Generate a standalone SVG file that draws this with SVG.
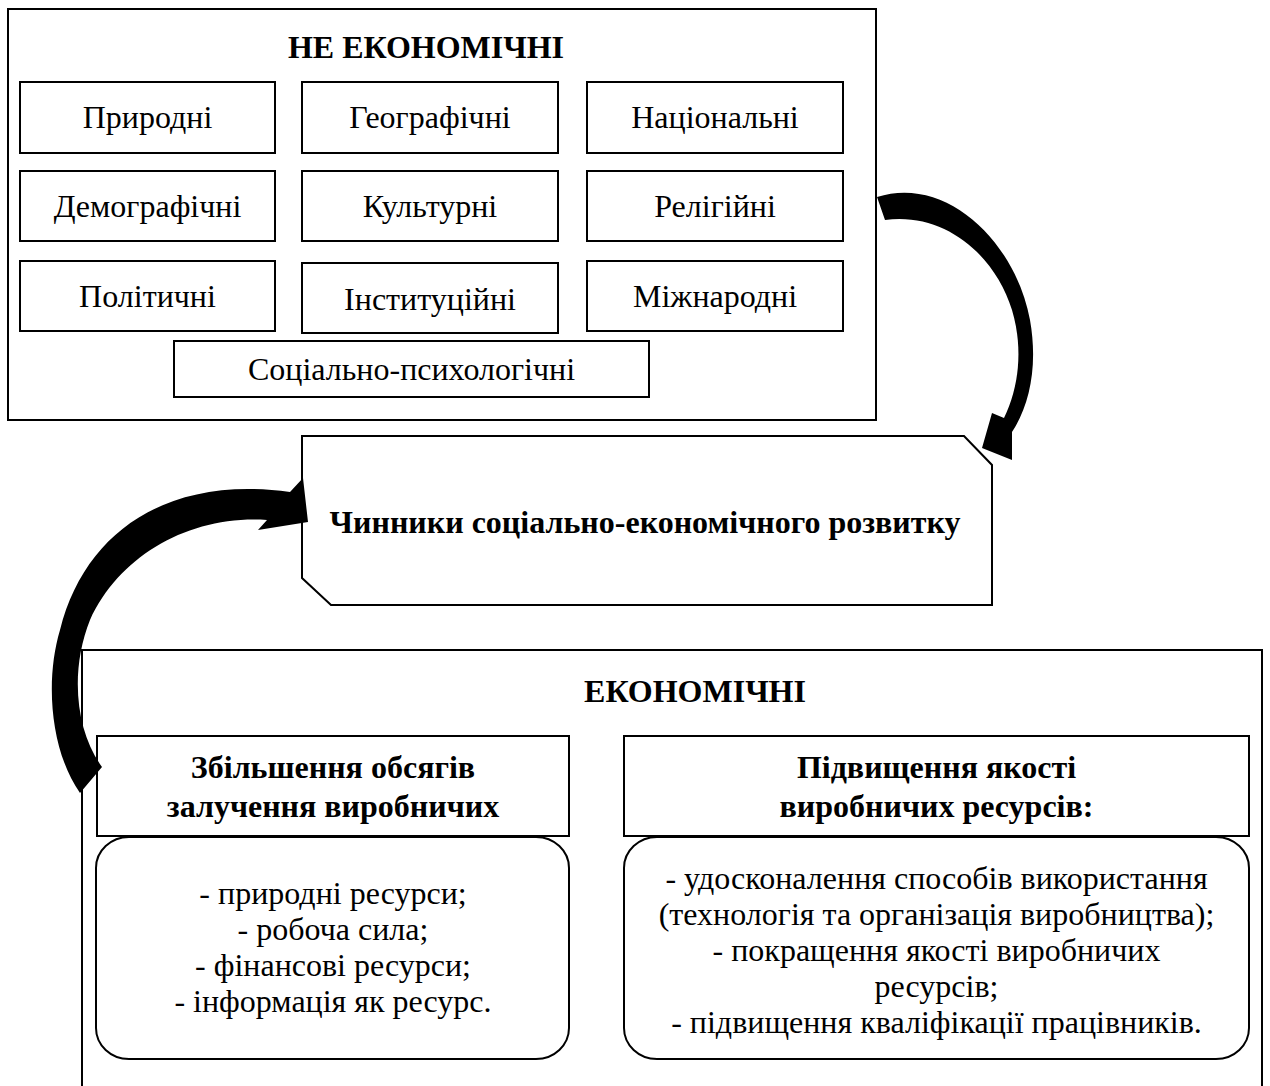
<svg xmlns="http://www.w3.org/2000/svg" width="1270" height="1086" viewBox="0 0 1270 1086">
<style>
.box{fill:#fff;stroke:#000;stroke-width:2}
.t{font-family:"Liberation Serif","Times New Roman",serif;font-size:32px;fill:#000;text-anchor:middle}
.b{font-weight:bold}
.arrow{fill:#000;stroke:none}
</style>
<rect width="1270" height="1086" fill="#fff"/>
<g id="non-economic">
<rect class="box" x="8" y="9" width="868" height="411"/>
<text class="t b" x="426" y="58">НЕ ЕКОНОМІЧНІ</text>
</g>
<g id="n-pryrodni"><rect class="box" x="20" y="82" width="255" height="71"/><text class="t" x="147.5" y="128">Природні</text></g>
<g id="n-geografichni"><rect class="box" x="302" y="82" width="256" height="71"/><text class="t" x="430" y="128">Географічні</text></g>
<g id="n-natsionalni"><rect class="box" x="587" y="82" width="256" height="71"/><text class="t" x="715" y="128">Національні</text></g>
<g id="n-demografichni"><rect class="box" x="20" y="171" width="255" height="70"/><text class="t" x="147.5" y="217">Демографічні</text></g>
<g id="n-kulturni"><rect class="box" x="302" y="171" width="256" height="70"/><text class="t" x="430" y="217">Культурні</text></g>
<g id="n-religiini"><rect class="box" x="587" y="171" width="256" height="70"/><text class="t" x="715" y="217">Релігійні</text></g>
<g id="n-politychni"><rect class="box" x="20" y="261" width="255" height="70"/><text class="t" x="147.5" y="307">Політичні</text></g>
<g id="n-instytutsiini"><rect class="box" x="302" y="263" width="256" height="70"/><text class="t" x="430" y="310">Інституційні</text></g>
<g id="n-mizhnarodni"><rect class="box" x="587" y="261" width="256" height="70"/><text class="t" x="715" y="307">Міжнародні</text></g>
<g id="n-sotsialno"><rect class="box" x="174" y="341" width="475" height="56"/><text class="t" x="411.5" y="380">Соціально-психологічні</text></g>

<g id="center">
<polygon class="box" points="302,436 964,436 992,465 992,605 331,605 302,578"/>
<text class="t b" x="645" y="533">Чинники соціально-економічного розвитку</text>
</g>

<g id="economic">
<rect class="box" x="82" y="650" width="1180" height="460"/>
<text class="t b" x="695" y="702">ЕКОНОМІЧНІ</text>
</g>
<g id="n-zbilshennia">
<rect class="box" x="97" y="736" width="472" height="100"/>
<text class="t b" x="333" y="778">Збільшення обсягів</text>
<text class="t b" x="333" y="817">залучення виробничих</text>
</g>
<g id="n-pidvyshchennia">
<rect class="box" x="624" y="736" width="625" height="100"/>
<text class="t b" x="936.5" y="778">Підвищення якості</text>
<text class="t b" x="936.5" y="817">виробничих ресурсів:</text>
</g>
<g id="n-resources">
<rect class="box" x="96" y="837" width="473" height="222" rx="33" ry="31"/>
<text class="t" x="333" y="904">- природні ресурси;</text>
<text class="t" x="333" y="940">- робоча сила;</text>
<text class="t" x="333" y="976">- фінансові ресурси;</text>
<text class="t" x="333" y="1012">- інформація як ресурс.</text>
</g>
<g id="n-quality">
<rect class="box" x="624" y="837" width="625" height="222" rx="33" ry="31"/>
<text class="t" x="936.5" y="889">- удосконалення способів використання</text>
<text class="t" x="936.5" y="925">(технологія та організація виробництва);</text>
<text class="t" x="936.5" y="961">- покращення якості виробничих</text>
<text class="t" x="936.5" y="997">ресурсів;</text>
<text class="t" x="936.5" y="1033">- підвищення кваліфікації працівників.</text>
</g>

<g id="connectors">
<path class="arrow" d="M877,197 C945,175 1015,240 1030,320 C1038,365 1030,405 1012,432 L1012,460 L982,448 L992,413 L1004,418 C1018,390 1024,350 1012,310 C995,255 945,212 885,220 Z"/>
<path class="arrow" d="M303,478 L308,522 L258,530 L267,520 C190,515 120,555 90,620 C70,670 75,730 102,767 L80,793 C50,750 45,680 60,630 C85,530 170,475 290,492 Z"/>
</g>
</svg>
